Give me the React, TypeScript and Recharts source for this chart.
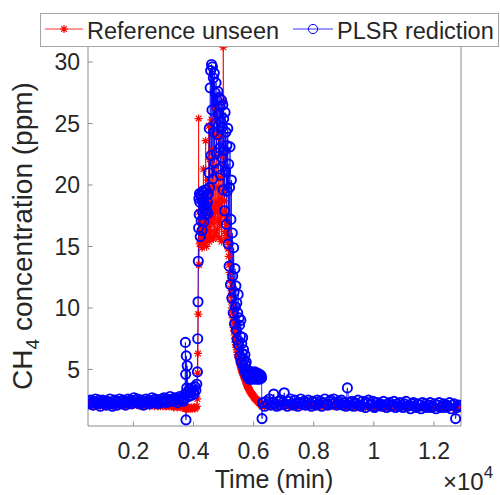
import React from "react";
import { ComposedChart, Line, XAxis, YAxis, Legend } from "recharts";

const FONT = '"Liberation Sans", Arial, Helvetica, sans-serif';
const RED = "#ff0000";
const BLUE = "#0000ff";
const AXIS = "#8c8c8c";
const TEXT = "#262626";

// ---- baseline before the release (time in min, CH4 in ppm)
const beforeTime = [
  500, 540, 580, 620, 660, 700, 740, 780, 820, 860,
  900, 940, 980, 1020, 1060, 1100, 1140, 1180, 1220, 1260,
  1300, 1340, 1380, 1420, 1460, 1500, 1540, 1580, 1620, 1660,
  1700, 1740, 1780, 1820, 1860, 1900, 1940, 1980, 2020, 2060,
  2100, 2140, 2180, 2220, 2260, 2300, 2340, 2380, 2420, 2460,
  2500, 2540, 2580, 2620, 2660, 2700, 2740, 2780, 2820, 2860,
  2900, 2940, 2980, 3020, 3060, 3100, 3140, 3180, 3220, 3260,
  3300, 3340, 3380, 3420, 3460, 3500, 3540, 3580, 3620, 3660,
  3700,
];
const beforeRef = [
  2.2, 2.1, 2.2, 2.1, 2.0, 2.1, 2.2, 2.1, 2.1, 2.2,
  2.0, 2.1, 2.2, 2.1, 2.1, 2.0, 2.1, 2.1, 2.2, 2.1,
  2.0, 2.1, 2.2, 2.1, 2.0, 2.1, 2.2, 2.1, 2.1, 2.2,
  2.1, 2.0, 2.1, 2.2, 2.1, 2.2, 2.1, 2.1, 2.2, 2.2,
  2.1, 2.2, 2.1, 2.0, 2.1, 2.1, 2.0, 2.1, 2.2, 2.1,
  2.1, 2.0, 2.1, 2.2, 2.1, 2.0, 2.1, 2.1, 2.0, 2.1,
  2.0, 2.1, 2.0, 2.1, 2.0, 2.0, 2.1, 2.0, 2.1, 2.0,
  2.0, 1.9, 2.0, 2.0, 1.9, 2.0, 2.0, 1.9, 2.0, 1.9,
  2.0,
];
const beforePlsr = [
  2.4, 2.2, 2.5, 2.3, 2.1, 2.4, 2.6, 2.3, 2.2, 2.5,
  2.0, 2.3, 2.5, 2.2, 2.4, 2.1, 2.4, 2.3, 2.6, 2.2,
  2.0, 2.2, 2.5, 2.4, 2.1, 2.3, 2.6, 2.4, 2.2, 2.5,
  2.3, 2.1, 2.4, 2.6, 2.3, 2.5, 2.2, 2.4, 2.7, 2.5,
  2.3, 2.6, 2.4, 2.2, 2.5, 2.3, 2.1, 2.4, 2.6, 2.3,
  2.5, 2.2, 2.4, 2.7, 2.5, 2.3, 2.6, 2.4, 2.2, 2.5,
  2.3, 2.6, 2.4, 2.7, 2.5, 2.3, 2.6, 2.4, 2.8, 2.5,
  2.6, 2.4, 2.7, 2.5, 2.3, 2.6, 2.8, 2.5, 2.7, 2.4,
  2.6,
];

// ---- small step and rising edge
const riseTime = [
  3720, 3730, 3740, 3750, 3760, 3775, 3790, 3810, 3840, 3870,
  3900, 3930, 3960, 3990, 4020, 4050, 4080, 4110,
  4130, 4140, 4150, 4160, 4170, 4180, 4190, 4200,
];
const riseRef = [
  1.8, 1.9, 1.8, 1.9, 1.8, 1.9, 1.8, 1.9, 1.8, 1.9,
  1.8, 1.9, 1.8, 1.9, 1.9, 1.8, 1.9, 2.0,
  2.6, 4.7, 6.3, 9.5, 25.4, 13.5, 17.8, 15.2,
];
const risePlsr = [
  3.0, 7.2, 4.6, 0.9, 6.1, 3.5, 5.3, 3.2, 2.8, 3.4,
  3.1, 2.9, 3.5, 3.2, 3.0, 3.6, 3.3, 3.8,
  4.8, 7.5, 10.5, 13.8, 16.5, 18.9, 17.6, 19.3,
];

// ---- peak and decay
const peakTime = [
  4210, 4225, 4240, 4255, 4270, 4285, 4300, 4315, 4330, 4345,
  4360, 4375, 4390, 4405, 4420, 4435, 4450, 4465, 4480, 4495,
  4510, 4525, 4540, 4555, 4570, 4585, 4600, 4615, 4630, 4645,
  4660, 4675, 4690, 4705, 4720, 4735, 4750, 4765, 4780, 4795,
  4810, 4825, 4840, 4855, 4870, 4885, 4900, 4915, 4930, 4945,
  4960, 4975, 4990, 5005, 5020, 5035, 5050, 5065, 5080, 5095,
  5110, 5125, 5140, 5155, 5170, 5185, 5200, 5215, 5230, 5245,
  5260, 5275, 5290, 5305, 5320, 5335, 5350, 5365, 5380, 5395,
  5410, 5425, 5440, 5455, 5470, 5485, 5500, 5515, 5530, 5545,
  5560, 5575, 5590, 5605, 5620, 5635, 5650, 5665, 5680, 5695,
  5710, 5725, 5740, 5755, 5770, 5785, 5800, 5815, 5830, 5845,
  5860, 5875, 5890, 5905, 5920, 5935, 5950, 5965, 5980, 5995,
  6010, 6025, 6040, 6055, 6070, 6085, 6100, 6115, 6130, 6145,
  6160, 6175, 6190, 6205, 6220, 6235, 6250, 6265, 6280, 6295,
];
const peakRef = [
  16.2, 15.3, 16.9, 15.6, 16.4, 14.9, 16.7, 15.8, 21.3, 16.1,
  15.2, 16.8, 15.5, 23.6, 16.3, 15.0, 17.1, 20.4, 15.7, 16.6,
  24.8, 15.4, 22.1, 16.2, 19.7, 15.8, 25.3, 16.9, 22.8, 17.4,
  15.6, 24.1, 18.2, 16.1, 21.5, 17.8, 15.9, 26.2, 18.6, 16.4,
  19.8, 17.1, 23.9, 15.7, 18.3, 20.6, 16.8, 18.9, 15.4, 22.4,
  17.6, 19.4, 31.2, 26.8, 18.7, 16.2, 17.9, 15.6, 17.2, 15.9,
  16.8, 15.3, 16.1, 14.8, 14.2, 13.5, 12.9, 12.2, 11.6, 11.0,
  10.5, 10.0, 9.6, 9.2, 8.8, 8.4, 8.1, 7.8, 7.5, 7.2,
  7.0, 6.8, 6.6, 6.4, 6.2, 6.0, 5.9, 5.7, 5.6, 5.4,
  5.3, 5.2, 5.0, 4.9, 4.8, 4.7, 4.6, 4.5, 4.4, 4.3,
  4.2, 4.1, 4.0, 3.9, 3.8, 3.7, 3.6, 3.5, 3.5, 3.4,
  3.3, 3.3, 3.2, 3.1, 3.1, 3.0, 3.0, 2.9, 2.9, 2.8,
  2.8, 2.7, 2.7, 2.6, 2.6, 2.6, 2.5, 2.5, 2.4, 2.4,
  2.4, 2.3, 2.3, 2.3, 2.2, 2.2, 2.1, 2.1, 2.0, 2.0,
];
const peakPlsr = [
  18.6, 15.8, 19.2, 17.1, 18.9, 16.3, 19.5, 17.8, 18.4, 17.0,
  19.4, 18.1, 17.6, 19.6, 18.3, 17.9, 19.2, 18.6, 17.7, 19.3,
  21.0, 24.6, 19.8, 27.9, 29.3, 22.4, 29.8, 26.1, 29.6, 20.5,
  28.7, 24.3, 29.1, 21.8, 27.5, 25.0, 28.3, 22.6, 26.9, 24.1,
  27.6, 21.3, 25.8, 27.1, 23.0, 26.4, 20.8, 25.1, 26.9, 22.2,
  24.7, 26.5, 19.6, 25.4, 22.8, 17.9, 25.9, 21.1, 24.3, 16.8,
  23.2, 19.5, 24.6, 15.2, 21.7, 13.4, 19.8, 23.1, 11.9, 17.2,
  20.4, 10.8, 16.1, 12.6, 9.6, 14.9, 11.3, 8.7, 13.2, 10.1,
  11.8, 8.2, 10.4, 7.4, 9.6, 11.1, 7.0, 9.2, 8.6, 6.1,
  7.7, 9.0, 5.6, 7.1, 6.3, 7.6, 5.3, 6.6, 5.8, 4.9,
  6.2, 5.4, 4.7, 5.6, 5.0, 4.5, 4.8, 4.3, 4.9, 4.4,
  4.7, 4.2, 4.6, 4.3, 4.8, 4.4, 4.2, 4.7, 4.5, 4.3,
  4.6, 4.4, 4.8, 4.3, 4.5, 4.2, 4.6, 4.4, 4.7, 4.3,
  4.5, 4.4, 4.2, 4.6, 4.4, 4.3, 4.5, 4.3, 1.0, 2.3,
];

// ---- baseline after the release
const afterTime = [
  6320, 6370, 6420, 6470, 6520, 6570, 6620, 6670, 6720, 6770,
  6820, 6870, 6920, 6970, 7020, 7070, 7120, 7170, 7220, 7270,
  7320, 7370, 7420, 7470, 7520, 7570, 7620, 7670, 7720, 7770,
  7820, 7870, 7920, 7970, 8020, 8070, 8120, 8170, 8220, 8270,
  8320, 8370, 8420, 8470, 8520, 8570, 8620, 8670, 8720, 8770,
  8820, 8870, 8920, 8970, 9020, 9070, 9120, 9170, 9220, 9270,
  9320, 9370, 9420, 9470, 9520, 9570, 9620, 9670, 9720, 9770,
  9820, 9870, 9920, 9970, 10020, 10070, 10120, 10170, 10220, 10270,
  10320, 10370, 10420, 10470, 10520, 10570, 10620, 10670, 10720, 10770,
  10820, 10870, 10920, 10970, 11020, 11070, 11120, 11170, 11220, 11270,
  11320, 11370, 11420, 11470, 11520, 11570, 11620, 11670, 11720, 11770,
  11820, 11870, 11920, 11970, 12020, 12070, 12120, 12170, 12220, 12270,
  12320, 12370, 12420, 12470, 12520, 12570, 12620, 12670, 12720, 12770,
  12820, 12870,
];
const afterRef = [
  2.1, 2.0, 2.1, 2.0, 2.1, 2.0, 2.1, 2.0, 2.0, 2.1,
  2.0, 2.1, 2.0, 2.1, 2.0, 2.0, 2.1, 2.0, 2.1, 2.0,
  2.0, 2.1, 2.0, 2.0, 2.1, 2.0, 2.0, 2.1, 2.0, 2.0,
  2.1, 2.0, 2.0, 2.1, 2.0, 2.0, 2.1, 2.0, 2.0, 2.0,
  2.1, 2.0, 2.0, 2.1, 2.0, 2.0, 2.1, 2.0, 2.0, 2.0,
  2.1, 2.0, 2.0, 2.0, 2.1, 2.0, 2.0, 2.0, 2.1, 2.0,
  2.0, 2.0, 1.9, 2.0, 2.0, 1.9, 2.0, 2.0, 1.9, 2.0,
  2.0, 1.9, 2.0, 2.0, 1.9, 2.0, 1.9, 2.0, 2.0, 1.9,
  2.0, 1.9, 1.9, 2.0, 1.9, 2.0, 1.9, 1.9, 2.0, 1.9,
  1.9, 2.0, 1.9, 1.9, 2.0, 1.9, 1.9, 1.9, 2.0, 1.9,
  1.9, 1.9, 2.0, 1.9, 1.9, 1.9, 2.0, 1.9, 1.9, 1.9,
  2.0, 1.9, 1.9, 1.9, 2.0, 1.9, 1.9, 2.0, 1.9, 1.9,
  1.9, 2.0, 1.9, 1.9, 1.9, 2.0, 1.9, 1.9, 1.9, 1.9,
  1.9, 1.9,
];
const afterPlsr = [
  2.3, 2.0, 2.4, 2.2, 2.6, 2.1, 2.3, 3.0, 2.2, 2.0,
  2.4, 2.1, 2.5, 2.3, 3.1, 2.2, 2.0, 2.4, 2.6, 2.2,
  2.1, 2.5, 2.2, 2.0, 2.3, 2.6, 2.2, 2.4, 2.1, 2.3,
  2.5, 2.2, 2.0, 2.4, 2.3, 2.1, 2.5, 2.2, 2.4, 2.0,
  2.3, 2.6, 2.2, 2.1, 2.4, 2.5, 2.2, 2.6, 2.3, 2.1,
  2.4, 2.2, 2.5, 2.1, 2.3, 2.0, 3.5, 2.3, 2.1, 2.4,
  2.0, 2.3, 2.2, 2.5, 2.1, 2.0, 2.4, 2.2, 1.9, 2.3,
  2.5, 2.1, 2.2, 2.4, 1.9, 2.0, 2.3, 2.1, 2.2, 2.0,
  2.4, 2.1, 1.9, 2.2, 2.3, 2.0, 2.1, 2.4, 1.9, 2.2,
  2.0, 2.3, 2.1, 1.9, 2.2, 2.4, 2.0, 2.1, 1.8, 2.2,
  2.3, 2.0, 1.9, 2.2, 2.1, 1.8, 2.3, 2.0, 2.2, 1.9,
  2.1, 2.3, 1.9, 2.0, 2.2, 1.8, 2.1, 2.3, 1.9, 2.0,
  2.2, 1.9, 2.1, 2.0, 2.3, 1.8, 2.1, 2.2, 1.0, 1.9,
  2.1, 2.0,
];

const time = [...beforeTime, ...riseTime, ...peakTime, ...afterTime];
const reference = [...beforeRef, ...riseRef, ...peakRef, ...afterRef];
const plsr = [...beforePlsr, ...risePlsr, ...peakPlsr, ...afterPlsr];

const xTicks = [2000, 4000, 6000, 8000, 10000, 12000];
const yTicks = [5, 10, 15, 20, 25, 30];

const data = time.map((t, i) => ({ t, reference: reference[i], plsr: plsr[i] }));

function Asterisk({ cx, cy, s = 4 }: { cx: number; cy: number; s?: number }) {
  const d = s * 0.72;
  return (
    <path
      d={`M${cx - s},${cy}H${cx + s}M${cx},${cy - s}V${cy + s}M${cx - d},${cy - d}L${cx + d},${cy + d}M${cx - d},${cy + d}L${cx + d},${cy - d}`}
      stroke={RED}
      strokeWidth={1.2}
      fill="none"
    />
  );
}

function Ring({ cx, cy }: { cx: number; cy: number }) {
  return <circle cx={cx} cy={cy} r={4.6} fill="none" stroke={BLUE} strokeWidth={1.9} />;
}

function LegendBox() {
  return (
    <svg width={460} height={34} style={{ display: "block" }}>
      <rect x={0.5} y={0.5} width={458} height={33} fill="#fff" stroke="#a6a6a6" />
      <line x1={5} x2={43} y1={16} y2={16} stroke={RED} strokeWidth={0.8} />
      <Asterisk cx={24} cy={16} />
      <text x={47} y={25.5} fontSize={23.5} fontFamily={FONT} fill={TEXT}>
        Reference unseen
      </text>
      <line x1={253} x2={293} y1={16} y2={16} stroke={BLUE} strokeWidth={0.8} />
      <circle cx={273} cy={16} r={4.6} fill="none" stroke={BLUE} strokeWidth={1} />
      <text x={297} y={25.5} fontSize={23.5} fontFamily={FONT} fill={TEXT}>
        PLSR rediction
      </text>
    </svg>
  );
}

function YLabel() {
  return (
    <text
      x={32}
      y={236}
      transform="rotate(-90, 32, 236)"
      textAnchor="middle"
      fontSize={28}
      fontFamily={FONT}
      fill={TEXT}
    >
      CH
      <tspan fontSize={19} dy={7}>4</tspan>
      <tspan dy={-7}> concentration (ppm)</tspan>
    </text>
  );
}

function XLabel() {
  return (
    <g fontFamily={FONT} fill={TEXT}>
      <text x={274} y={488} textAnchor="middle" fontSize={25}>
        Time (min)
      </text>
      <text x={443} y={490} fontSize={24}>
        ×10
        <tspan fontSize={17} dy={-12}>4</tspan>
      </text>
    </g>
  );
}

export default function App() {
  const tickStyle = { fontSize: 23, fill: TEXT, fontFamily: FONT };
  return (
    <div style={{ position: "absolute", left: 0, top: 0, width: 500, height: 495, background: "#fff" }}>
      <ComposedChart
        width={500}
        height={495}
        data={data}
        margin={{ top: 46, right: 0, bottom: 39, left: 28 }}
      >
        <XAxis
          dataKey="t"
          type="number"
          domain={[490, 12900]}
          allowDataOverflow
          ticks={xTicks}
          tickFormatter={(v: number) => String(v / 10000)}
          tick={tickStyle}
          tickSize={-4.5}
          tickMargin={21}
          stroke={AXIS}
          height={30}
          label={{ content: () => <XLabel /> }}
        />
        <YAxis
          yAxisId="left"
          type="number"
          domain={[0.4, 31.3]}
          allowDataOverflow
          ticks={yTicks}
          tick={tickStyle}
          tickSize={-4.5}
          tickMargin={12.5}
          stroke={AXIS}
          width={60}
          label={{ content: () => <YLabel /> }}
        />
        <YAxis
          yAxisId="right"
          orientation="right"
          type="number"
          domain={[0.4, 31.3]}
          allowDataOverflow
          ticks={yTicks}
          tick={false}
          tickSize={-4.5}
          stroke={AXIS}
          width={39}
        />
        <Legend
          layout="vertical"
          verticalAlign="middle"
          align="center"
          wrapperStyle={{ top: 13, left: 40, width: 460, height: 34 }}
          content={() => <LegendBox />}
        />
        <Line
          yAxisId="left"
          dataKey="reference"
          type="linear"
          stroke={RED}
          strokeWidth={0.8}
          dot={(p: any) => <Asterisk key={`r${p.index}`} cx={p.cx} cy={p.cy} />}
          activeDot={false}
          isAnimationActive={false}
        />
        <Line
          yAxisId="left"
          dataKey="plsr"
          type="linear"
          stroke={BLUE}
          strokeWidth={0.8}
          dot={(p: any) => <Ring key={`b${p.index}`} cx={p.cx} cy={p.cy} />}
          activeDot={false}
          isAnimationActive={false}
        />
      </ComposedChart>
    </div>
  );
}
